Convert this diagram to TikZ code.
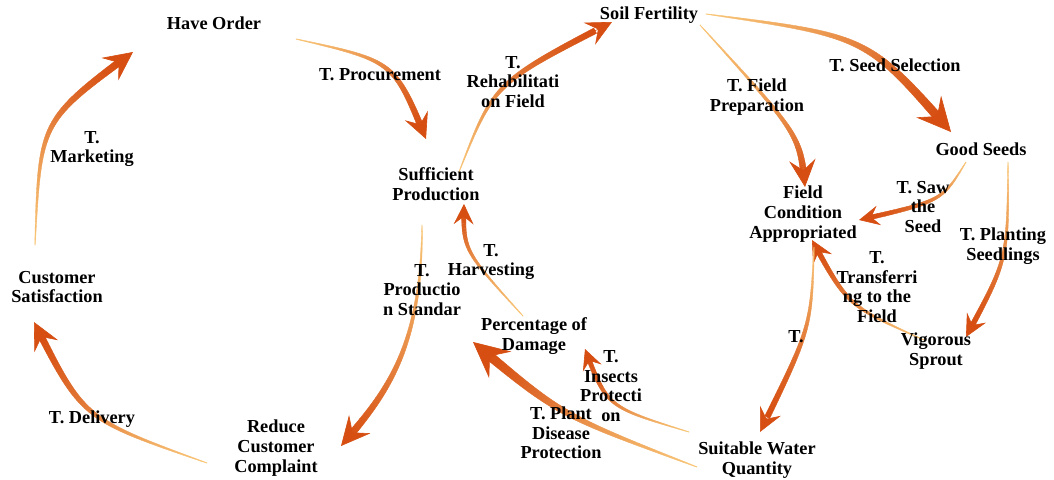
\documentclass[tikz,border=0pt]{standalone}
\usepackage{fontspec}
\setmainfont{Liberation Serif}
\usetikzlibrary{arrows.meta,calc}
\definecolor{tailc}{RGB}{250,200,120}
\definecolor{headc}{RGB}{214,78,18}
\newcommand\tarrow[5]{%
  \foreach \k in {0,...,60}{%
    \pgfmathsetmacro\tapos{\k/60}%
    \path (#2) .. controls #3 .. (#4) coordinate[pos=\tapos] (#1-\k);
  }%
  \foreach \k in {0,...,57}{%
    \pgfmathtruncatemacro\takn{\k+1}%
    \pgfmathsetmacro\tawd{0.5*(0.4+(#5-0.4)*(\k/57)^0.75)}%
    \coordinate (#1-L\k) at ($(#1-\k)!\tawd pt!90:(#1-\takn)$);
    \coordinate (#1-R\k) at ($(#1-\k)!\tawd pt!-90:(#1-\takn)$);
  }%
  \foreach \k in {1,...,57}{%
    \pgfmathtruncatemacro\takp{\k-1}%
    \pgfmathtruncatemacro\tapc{100*(\k/57)^0.9}%
    \filldraw[line width=0.35pt, line join=round, draw={headc!\tapc!tailc}, fill={headc!\tapc!tailc}]
      (#1-L\takp) -- (#1-L\k) -- (#1-R\k) -- (#1-R\takp) -- cycle;
  }%
  \pgfmathsetmacro\tahl{3.4*#5+5}%
  \pgfmathsetmacro\tahw{3.3*#5+5}%
  \pgfmathsetmacro\tahi{0.38*\tahl}%
  \draw[headc, line width=0.6pt, -{Stealth[length=\tahl pt, width=\tahw pt, inset=\tahi pt]}] (#1-56) -- (#1-60);
}
\tikzset{lbl/.style={font=\bfseries\fontsize{18.3}{19.6}\selectfont, align=center, inner sep=0pt, text=black}}
\begin{document}
\begin{tikzpicture}[x=1pt,y=-1pt]
\useasboundingbox[fill=white] (0,0) rectangle (1054,479);
% arrow end points
\coordinate (mks) at (35,245);  \coordinate (mke) at (133,52);
\coordinate (prs) at (296,39);  \coordinate (pre) at (426,139);
\coordinate (rhs) at (459,172); \coordinate (rhe) at (612,22);
\coordinate (sss) at (706,14);  \coordinate (sse) at (951,132);
\coordinate (fps) at (700,25);  \coordinate (fpe) at (805,187);
\coordinate (sws) at (966,162); \coordinate (swe) at (859,220);
\coordinate (pls) at (1008,162);\coordinate (ple) at (966,337);
\coordinate (trs) at (924,340); \coordinate (tre) at (812,240);
\coordinate (wts) at (814,247); \coordinate (wte) at (760,432);
\coordinate (ins) at (689,432); \coordinate (ine) at (585,349);
\coordinate (pds) at (697,467); \coordinate (pde) at (473,342);
\coordinate (hvs) at (523,316); \coordinate (hve) at (464,204);
\coordinate (pss) at (422,225); \coordinate (pse) at (341,446);
\coordinate (dls) at (207,463); \coordinate (dle) at (34,322);
% arrows
\tarrow{mk}{mks}{(40,121)}{mke}{7}
\tarrow{pr}{prs}{(394,61)}{pre}{6}
\tarrow{rh}{rhs}{(494,83)}{rhe}{6}
\tarrow{ss}{sss}{(867,36)}{sse}{8.5}
\tarrow{fp}{fps}{(800,135)}{fpe}{6.5}
\tarrow{sw}{sws}{(942,201)}{swe}{4.5}
\tarrow{pl}{pls}{(1008,259)}{ple}{5}
\tarrow{tr}{trs}{(848,306)}{tre}{5}
\tarrow{wt}{wts}{(811,328)}{wte}{5.5}
\tarrow{in}{ins}{(607,407)}{ine}{4.5}
\tarrow{pd}{pds}{(560,415)}{pde}{9}
\tarrow{hv}{hvs}{(463,250)}{hve}{4.5}
\tarrow{ps}{pss}{(422,350) and (385,395)}{pse}{7}
\tarrow{dl}{dls}{(83,419)}{dle}{6.5}
% nodes
\node[lbl] (HO) at (214,23) {Have Order};
\node[lbl] (lProc) at (380,75) {T. Procurement};
\node[lbl] (lMark) at (92,149) {T.\\Marketing};
\node[lbl] (SP) at (436,184) {Sufficient\\Production};
\node[lbl] (lRehab) at (513,82) {T.\\Rehabilitati\\on Field};
\node[lbl] (SF) at (649,15) {Soil Fertility};
\node[lbl] (lFP) at (757,97) {T. Field\\Preparation};
\node[lbl] (lSS) at (895,65) {T. Seed Selection};
\node[lbl] (GS) at (981,149) {Good Seeds};
\node[lbl] (FC) at (803,214) {Field\\Condition\\Appropriated};
\node[lbl] (lSaw) at (923,207) {T. Saw\\the\\Seed};
\node[lbl] (lPlant) at (1003,246) {T. Planting\\Seedlings};
\node[lbl] (lTrans) at (877,287) {T.\\Transferri\\ng to the\\Field};
\node[lbl] (VS) at (936,351) {Vigorous\\Sprout};
\node[lbl] (lWater) at (796,337) {T.};
\node[lbl] (SW) at (757,460) {Suitable Water\\Quantity};
\node[lbl] (lIns) at (611,386) {T.\\Insects\\Protecti\\on};
\node[lbl] (lPD) at (561,433) {T. Plant\\Disease\\Protection};
\node[lbl] (PD) at (534,336) {Percentage of\\Damage};
\node[lbl] (lHarv) at (491,262) {T.\\Harvesting};
\node[lbl] (lProd) at (422,290) {T.\\Productio\\n Standar};
\node[lbl] (CS) at (57,287) {Customer\\Satisfaction};
\node[lbl] (lDel) at (92,419) {T. Delivery};
\node[lbl] (RC) at (276,448) {Reduce\\Customer\\Complaint};
\end{tikzpicture}
\end{document}
